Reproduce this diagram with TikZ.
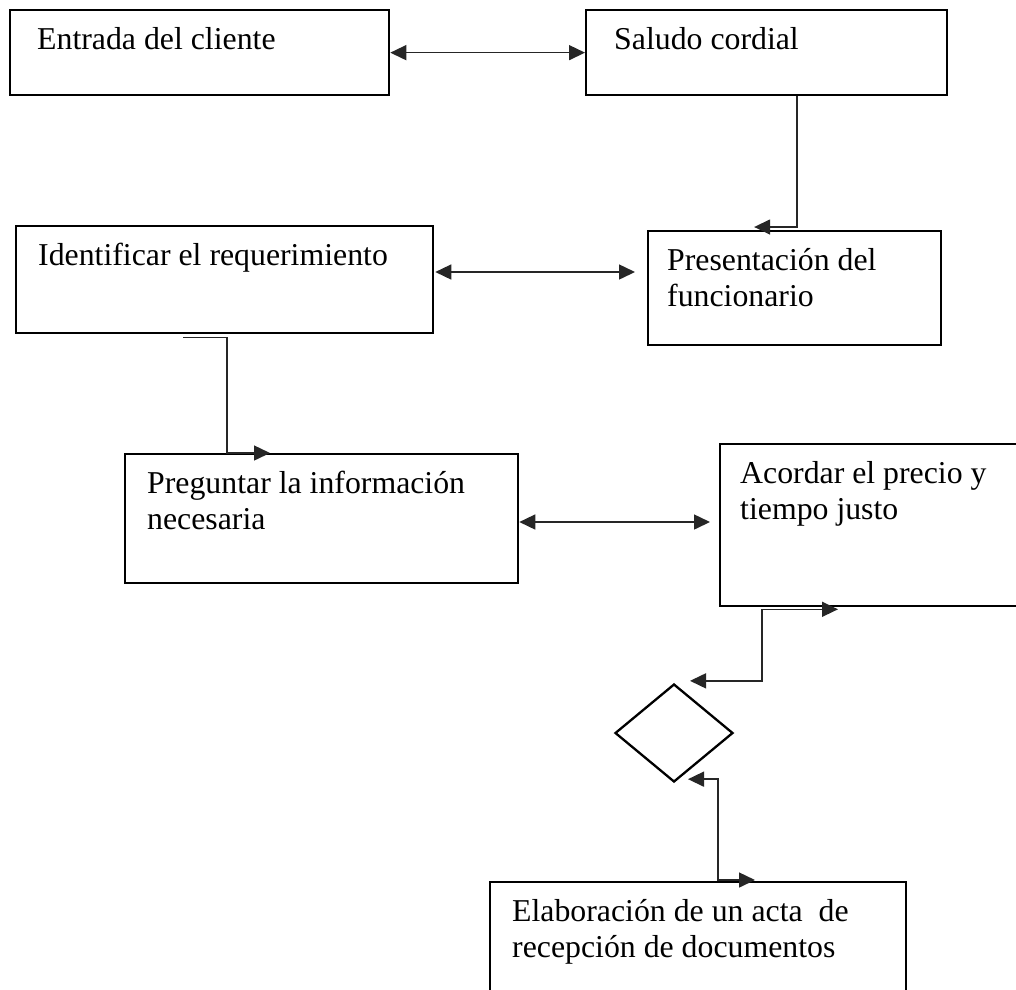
\documentclass[tikz,border=0pt]{standalone}
\usepackage{fontspec}
\setmainfont{Liberation Serif}
\usetikzlibrary{arrows.meta,calc,shapes.geometric}
\begin{document}
\begin{tikzpicture}[x=1pt,y=-1pt,
  box/.style={draw=black,line width=2.3pt,inner sep=0pt,anchor=north west},
  lbl/.style={anchor=north west,inner sep=0pt,align=left,font=\fontsize{31.8}{36.3}\selectfont},
  link/.style={draw=black!85,line width=1.5pt},
  tip/.style={-{Triangle[length=16pt,width=15pt]}},
  tips/.style={{Triangle[length=16pt,width=15pt]}-{Triangle[length=16pt,width=15pt]}},
]
\clip (0,0) rectangle (1016,989);
\fill[white] (0,0) rectangle (1016,989);

% process boxes
\node[box,minimum width=379pt,minimum height=85pt] (entrada) at (9,9) {};
\node[lbl] (tentrada) at ($(entrada.north west)+(28,15)$) {\strut Entrada del cliente};

\node[box,minimum width=361pt,minimum height=85pt] (saludo) at (585,9) {};
\node[lbl] (tsaludo) at ($(saludo.north west)+(29,15)$) {\strut Saludo cordial};

\node[box,minimum width=417pt,minimum height=107pt] (identificar) at (15,225) {};
\node[lbl] (tidentificar) at ($(identificar.north west)+(23,15)$) {\strut Identificar el requerimiento};

\node[box,minimum width=293pt,minimum height=114pt] (presentacion) at (647,230) {};
\node[lbl] (tpresentacion) at ($(presentacion.north west)+(20,15)$) {\strut Presentación del\\funcionario};

\node[box,minimum width=393pt,minimum height=129pt] (preguntar) at (124,453) {};
\node[lbl] (tpreguntar) at ($(preguntar.north west)+(23,15)$) {\strut Preguntar la información\\necesaria};

\node[box,minimum width=330pt,minimum height=162pt] (acordar) at (719,443) {};
\node[lbl] (tacordar) at ($(acordar.north west)+(21,15)$) {\strut Acordar el precio y\\tiempo justo};

\node[box,minimum width=416pt,minimum height=130pt] (elab) at (489,881) {};
\node[lbl] (telab) at ($(elab.north west)+(23,15)$) {\strut Elaboración de un acta~ de\\recepción de documentos};

% decision
\node[draw=black,line width=2.3pt,diamond,inner sep=0pt,minimum width=118pt,minimum height=98pt] (dec) at (674,733) {};

% connectors
\draw[link,tips] (entrada.east) -- (saludo.west);
\draw[link,tip] ($(saludo.south)+(30.5,0)$) |- ($(presentacion.north)+(-40.5,-3)$);
\draw[link,tips] ($(identificar.north east)+(1,47)$) -- ($(presentacion.north west)+(-12,42)$);
\draw[link,tip] ($(identificar.south west)+(168,3)$) -- ++(44,0) |- ($(preguntar.north west)+(146,0)$);
\draw[link,tips] ($(preguntar.north east)+(0,69)$) -- ($(acordar.north west)+(-9,79)$);
\draw[link,tips] ($(acordar.south west)+(119,2)$) -- ($(acordar.south west)+(43,2)$) |- ($(dec.north)+(16,-2)$);
\draw[link,tips] ($(dec.south)+(14,-4)$) -- ++(30,0) |- ($(elab.north west)+(266,-1)$);
\end{tikzpicture}
\end{document}
